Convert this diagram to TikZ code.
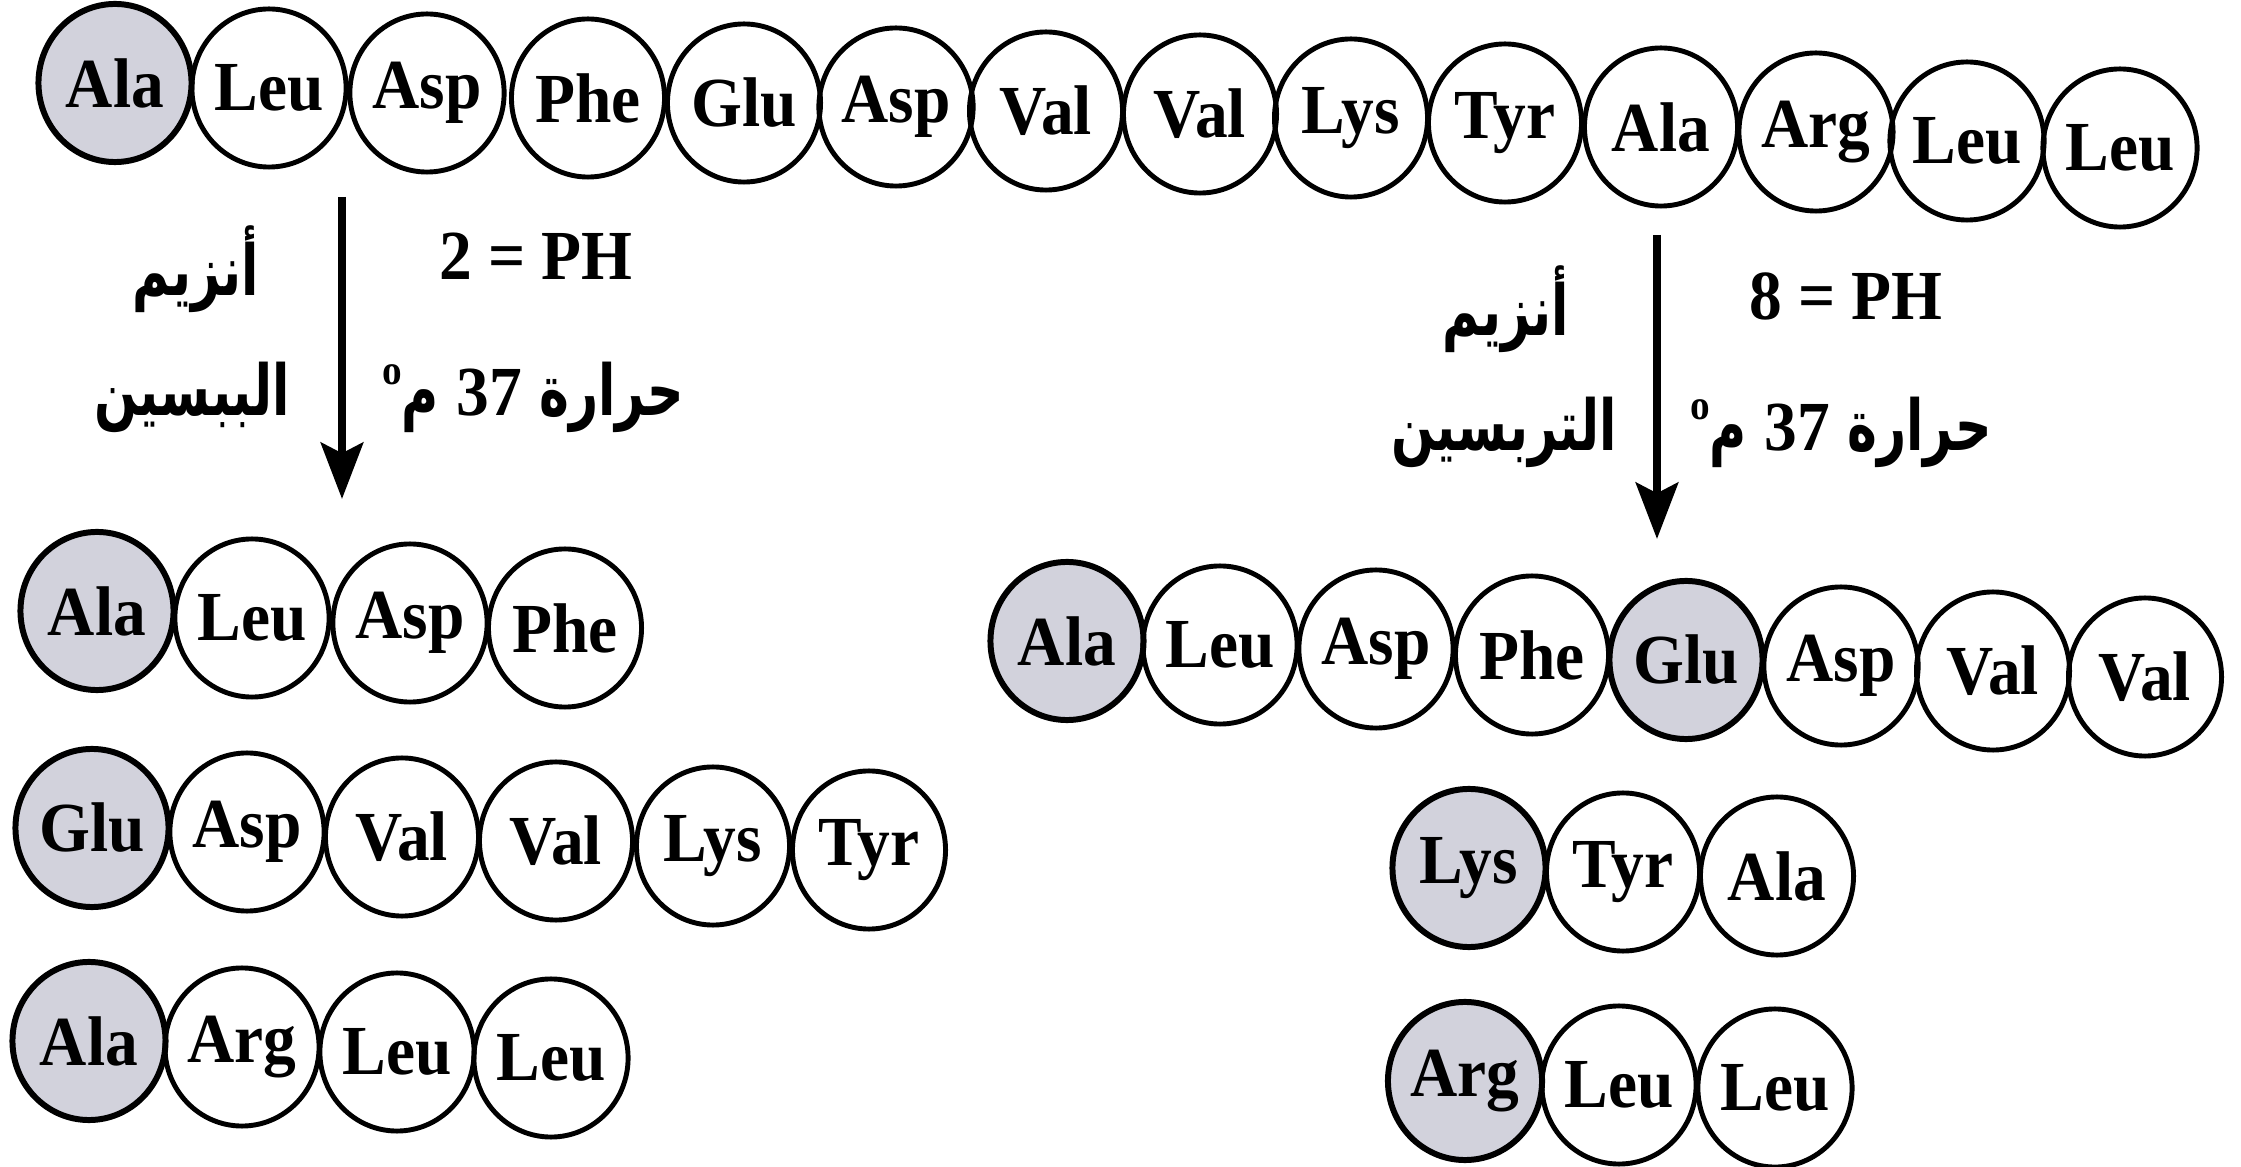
\documentclass[tikz,border=0pt]{standalone}
\usepackage{fontspec}
\usetikzlibrary{shapes.geometric,arrows.meta}
\TeXXeTstate=1
\newfontfamily\lab[FakeStretch=0.93]{Liberation Serif}
\newfontfamily\arabicfont[Script=Arabic,FakeStretch=0.72]{DejaVu Sans}
\definecolor{shade}{RGB}{210,210,220}
\newcommand{\degmark}{\raisebox{9pt}{\lab\fontsize{12}{12}\selectfont o}}
\begin{document}
\begin{tikzpicture}[x=0.01cm,y=-0.01cm,
  aa/.style={ellipse, draw, line width=1.4pt, minimum width=1.53cm, minimum height=1.58cm, inner sep=0pt, font=\lab\bfseries\fontsize{20}{20}\selectfont},
  ash/.style={aa, fill=shade, line width=1.7pt},
  cond/.style={font=\lab\bfseries\fontsize{20}{20}\selectfont, anchor=base, inner sep=0pt},
  ar/.style={font=\arabicfont\bfseries\fontsize{20}{22}\selectfont, anchor=base, inner sep=0pt},
  flow/.style={line width=2.4pt, -{Stealth[length=16pt,width=12pt,inset=3pt]}}]
\useasboundingbox (0,0) rectangle (2241,1167);
% top chain
\node[ash] (t1) at (115,83) {Ala};
\node[aa] (t2) at (269,88) {Leu};
\node[aa] (t3) at (427,93) {Asp};
\node[aa] (t4) at (588,98) {Phe};
\node[aa] (t5) at (744,103) {Glu};
\node[aa] (t6) at (896,107) {Asp};
\node[aa] (t7) at (1046,111) {Val};
\node[aa] (t8) at (1200,114) {Val};
\node[aa] (t9) at (1351,118) {Lys};
\node[aa] (t10) at (1505,123) {Tyr};
\node[aa] (t11) at (1661,127) {Ala};
\node[aa] (t12) at (1816,132) {Arg};
\node[aa] (t13) at (1967,141) {Leu};
\node[aa] (t14) at (2120,148) {Leu};
% left arrow and labels
\coordinate (la1) at (342,197);
\coordinate (la2) at (342,499);
\draw[flow] (la1) -- (la2);
\node[cond] (phL) at (536,280) {2 = PH};
\node[ar] (enzL) at (196,296) {\beginR أنزيم\endR};
\node[ar] (pepL) at (192,416) {\beginR الببسين\endR};
\node[ar] (tmpL) at (533,416) {\beginR حرارة \beginL{\lab 37}\endL{} م\degmark\endR};
% right arrow and labels
\coordinate (ra1) at (1657,235);
\coordinate (ra2) at (1657,539);
\draw[flow] (ra1) -- (ra2);
\node[cond] (phR) at (1846,320) {8 = PH};
\node[ar] (enzR) at (1506,336) {\beginR أنزيم\endR};
\node[ar] (tryR) at (1504,451) {\beginR التربسين\endR};
\node[ar] (tmpR) at (1841,451) {\beginR حرارة \beginL{\lab 37}\endL{} م\degmark\endR};
% pepsin products
\node[ash] (a1) at (97,611) {Ala};
\node[aa] (a2) at (252,618) {Leu};
\node[aa] (a3) at (410,623) {Asp};
\node[aa] (a4) at (565,628) {Phe};
\node[ash] (b1) at (92,828) {Glu};
\node[aa] (b2) at (247,832) {Asp};
\node[aa] (b3) at (402,837) {Val};
\node[aa] (b4) at (556,841) {Val};
\node[aa] (b5) at (713,846) {Lys};
\node[aa] (b6) at (869,850) {Tyr};
\node[ash] (c1) at (89,1041) {Ala};
\node[aa] (c2) at (242,1047) {Arg};
\node[aa] (c3) at (397,1052) {Leu};
\node[aa] (c4) at (551,1058) {Leu};
% trypsin products
\node[ash] (r1) at (1067,641) {Ala};
\node[aa] (r2) at (1220,645) {Leu};
\node[aa] (r3) at (1376,649) {Asp};
\node[aa] (r4) at (1532,655) {Phe};
\node[ash] (r5) at (1686,660) {Glu};
\node[aa] (r6) at (1841,666) {Asp};
\node[aa] (r7) at (1993,671) {Val};
\node[aa] (r8) at (2145,677) {Val};
\node[ash] (s1) at (1469,868) {Lys};
\node[aa] (s2) at (1623,872) {Tyr};
\node[aa] (s3) at (1777,876) {Ala};
\node[ash] (u1) at (1465,1081) {Arg};
\node[aa] (u2) at (1619,1085) {Leu};
\node[aa] (u3) at (1775,1088) {Leu};
\end{tikzpicture}
\end{document}
